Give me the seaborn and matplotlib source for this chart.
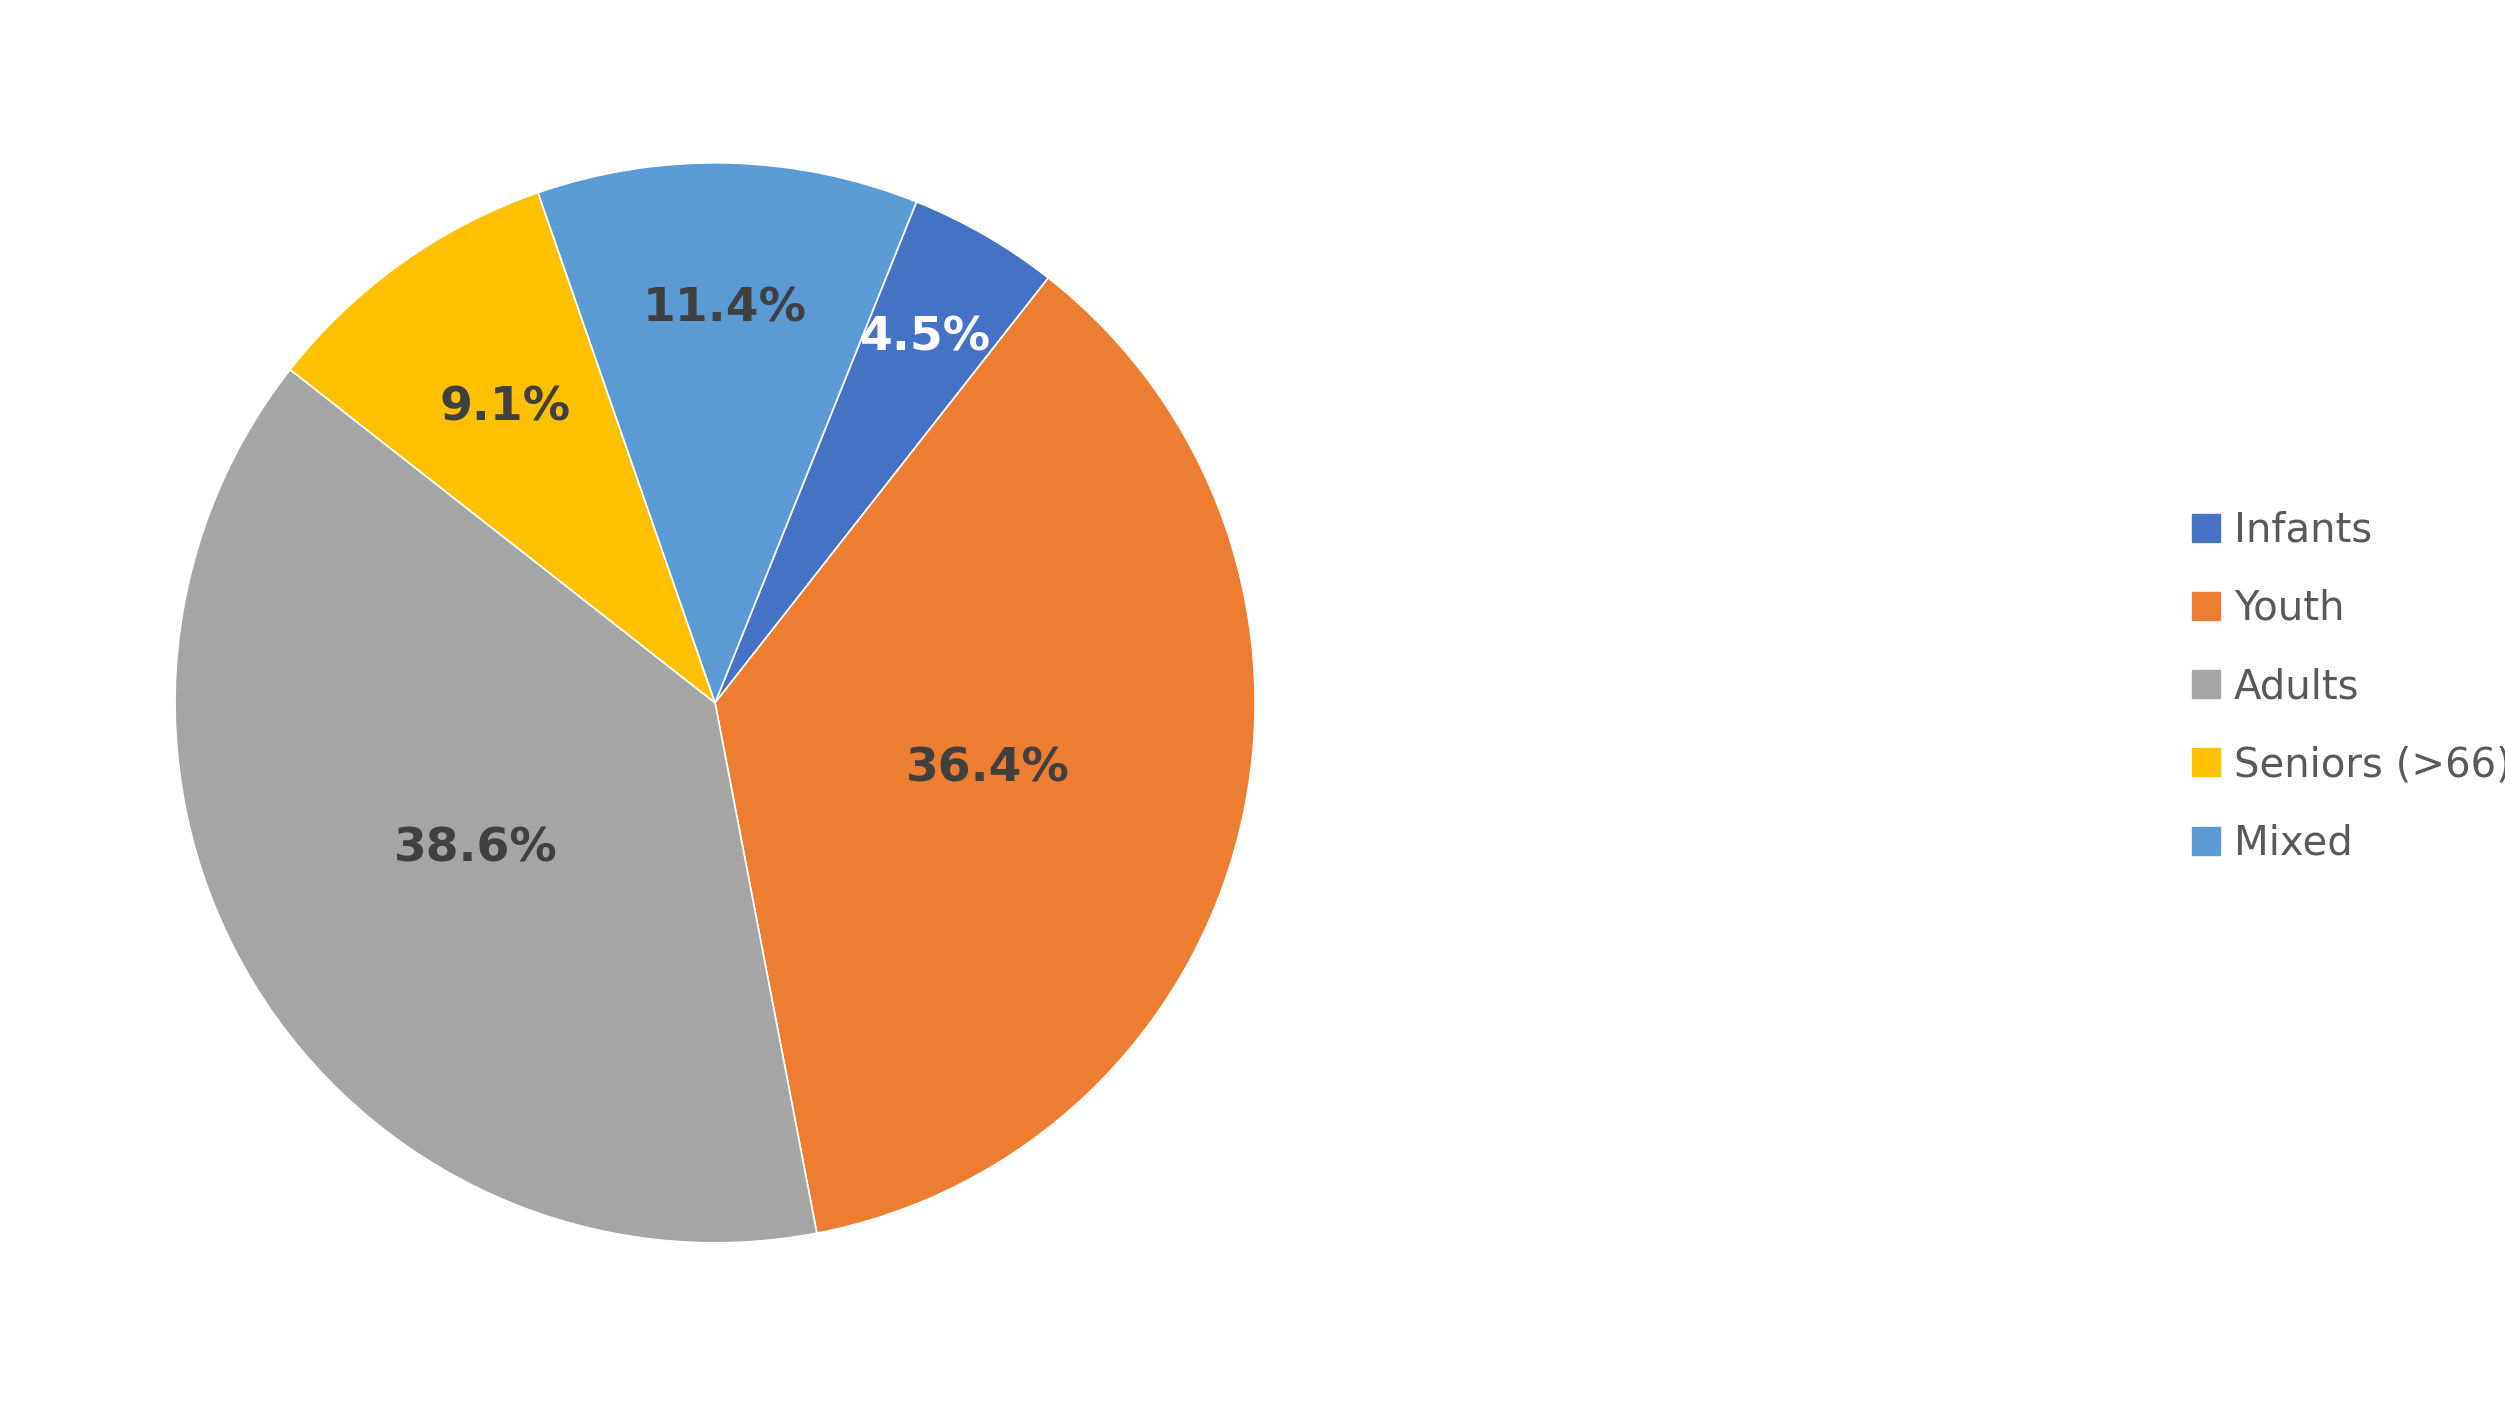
import numpy as np
import matplotlib
matplotlib.use("Agg")
import matplotlib.pyplot as plt
import seaborn as sns
from matplotlib.lines import Line2D

sns.set_theme(style="white")
plt.rcParams["font.family"] = ["DejaVu Sans"]

# --- Data ---
categories = ["Infants", "Youth", "Adults", "Seniors (>66)", "Mixed"]
shares = [4.5, 36.4, 38.6, 9.1, 11.4]
colors = ["#4472C4", "#ED7D31", "#A5A5A5", "#FFC000", "#5B9BD5"]
label_colors = ["white", "#404040", "#404040", "#404040", "#404040"]
label_radius = [0.78, 0.52, 0.52, 0.67, 0.73]

fig = plt.figure(figsize=(25.05, 14.17), dpi=100)
ax = fig.add_axes([0.016, 0.0275, 1350 / 2505, 0.953])

wedges, _ = ax.pie(shares, colors=colors, startangle=68.1, counterclock=False,
                   wedgeprops={"edgecolor": "white", "linewidth": 1.2})
ax.set_aspect("equal")

for w, val, col, r in zip(wedges, shares, label_colors, label_radius):
    mid = np.deg2rad((w.theta1 + w.theta2) / 2)
    ax.text(r * np.cos(mid), r * np.sin(mid), f"{val}%", ha="center", va="center",
            fontsize=34, fontweight="bold", color=col)

handles = [Line2D([], [], marker="s", linestyle="", markersize=20, color=c) for c in colors]
leg = fig.legend(handles, categories, loc="center left", bbox_to_anchor=(0.858, 0.515),
                 frameon=False, fontsize=29, labelspacing=0.95, handletextpad=0.2,
                 handlelength=1.0)
for t in leg.get_texts():
    t.set_color("#595959")

fig.savefig("out.png", dpi=100)
